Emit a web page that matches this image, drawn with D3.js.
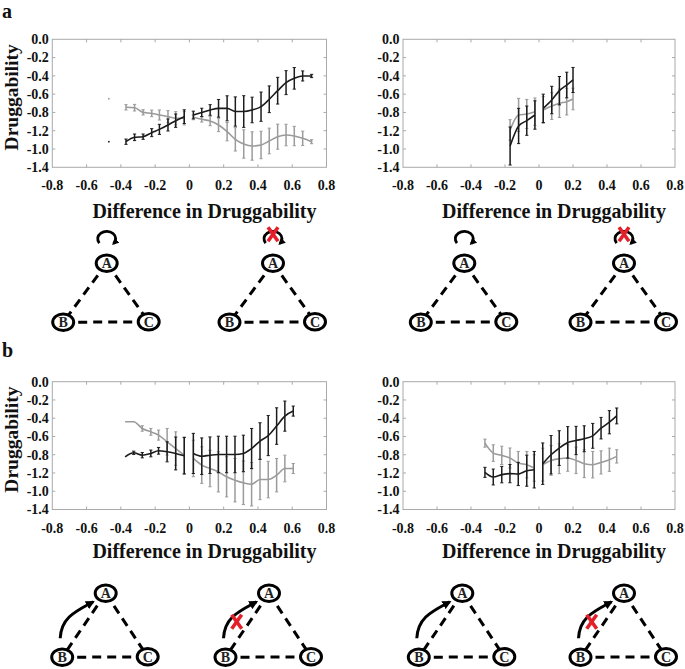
<!DOCTYPE html>
<html><head><meta charset="utf-8">
<script src="https://cdn.jsdelivr.net/npm/d3@7"></script>
<style>body{margin:0;background:#fff}</style>
</head><body>
<svg id="fig" width="685" height="669" xmlns="http://www.w3.org/2000/svg"></svg>
<script>
// ---------- data ----------
const xTicks = [-0.8,-0.6,-0.4,-0.2,0,0.2,0.4,0.6,0.8];
const xTickLabels = ["-0.8","-0.6","-0.4","-0.2","0","0.2","0.4","0.6","0.8"];
const yTicks = [0,-0.2,-0.4,-0.6,-0.8,-1.0,-1.2,-1.4];
const yTickLabels = ["0.0","-0.2","-0.4","-0.6","-0.8","-1.2","-1.0","-1.4"];
const xTitle = "Difference in Druggability";
const yTitle = "Druggability";
const panelLetters = ["a","b"];

// panel a, left
const aLeftX = [-0.37,-0.32,-0.27,-0.22,-0.175,-0.125,-0.08,-0.03,0.023,0.072,0.121,0.17,0.22,0.268,0.317,0.366,0.418,0.466,0.515,0.564,0.612,0.661,0.713];
const aLeftDark = [-1.12,-1.072,-1.065,-1.021,-0.985,-0.937,-0.89,-0.846,-0.828,-0.80,-0.773,-0.755,-0.755,-0.79,-0.79,-0.773,-0.737,-0.656,-0.562,-0.474,-0.427,-0.401,-0.401];
const aLeftDarkErr = [0.029,0.036,0.029,0.044,0.055,0.066,0.073,0.075,0.042,0.046,0.058,0.097,0.137,0.16,0.173,0.14,0.16,0.146,0.146,0.131,0.118,0.055,0.018];
const aLeftGray = [-0.744,-0.748,-0.799,-0.81,-0.828,-0.846,-0.864,-0.864,-0.853,-0.875,-0.894,-0.937,-1.01,-1.094,-1.145,-1.167,-1.156,-1.112,-1.065,-1.047,-1.058,-1.083,-1.12];
const aLeftGrayErr = [0.029,0.036,0.029,0.036,0.055,0.066,0.073,0.073,0.027,0.03,0.051,0.073,0.1,0.128,0.155,0.155,0.15,0.14,0.137,0.118,0.106,0.078,0.022];
const aLeftDotX = [-0.47];
const aLeftDotDark = [-1.12];
const aLeftDotGray = [-0.65];

// panel a, right
const aRightX = [-0.17,-0.12,-0.072,-0.024,0.025,0.075,0.12,0.163,0.2];
const aRightDark = [-1.167,-0.948,-0.89,-0.828,-0.755,-0.664,-0.562,-0.5,-0.445];
const aRightDarkErr = [0.208,0.193,0.16,0.155,0.155,0.15,0.155,0.14,0.137];
const aRightGray = [-0.992,-0.828,-0.817,-0.792,-0.773,-0.73,-0.7,-0.682,-0.653];
const aRightGrayErr = [0.113,0.182,0.159,0.15,0.146,0.146,0.155,0.146,0.118];

// panel b, left
const bLeftX = [-0.375,-0.325,-0.275,-0.225,-0.18,-0.13,-0.08,-0.03,0.023,0.072,0.12,0.169,0.217,0.266,0.315,0.363,0.412,0.46,0.509,0.557,0.606];
const bLeftDark = [-0.823,-0.779,-0.805,-0.786,-0.757,-0.768,-0.786,-0.812,-0.786,-0.816,-0.805,-0.797,-0.797,-0.797,-0.786,-0.732,-0.65,-0.59,-0.486,-0.377,-0.322];
const bLeftDarkErr = [0,0.018,0.029,0.037,0.037,0.11,0.18,0.2,0.22,0.2,0.2,0.2,0.2,0.2,0.2,0.22,0.2,0.22,0.2,0.165,0.055];
const bLeftGray = [-0.439,-0.439,-0.512,-0.549,-0.585,-0.658,-0.732,-0.805,-0.841,-0.914,-0.951,-0.988,-1.042,-1.079,-1.108,-1.123,-1.072,-1.072,-1.024,-0.951,-0.951];
const bLeftGrayErr = [0,0,0.03,0.037,0.055,0.146,0.183,0.2,0.2,0.2,0.2,0.22,0.22,0.238,0.238,0.238,0.22,0.2,0.183,0.146,0.055];

// panel b, right
const bRightX = [-0.318,-0.269,-0.219,-0.171,-0.122,-0.072,-0.028,0.022,0.071,0.119,0.169,0.218,0.266,0.316,0.365,0.414,0.457];
const bRightDark = [-0.993,-1.044,-1.018,-1.007,-1.011,-0.975,-0.964,-0.898,-0.8,-0.727,-0.665,-0.644,-0.625,-0.593,-0.509,-0.444,-0.375];
const bRightDarkErr = [0.055,0.087,0.09,0.1,0.127,0.17,0.2,0.227,0.21,0.19,0.173,0.155,0.142,0.136,0.118,0.127,0.087];
const bRightGray = [-0.673,-0.782,-0.807,-0.836,-0.891,-0.909,-0.945,-0.909,-0.862,-0.844,-0.836,-0.862,-0.898,-0.909,-0.884,-0.855,-0.818];
const bRightGrayErr = [0.044,0.091,0.1,0.11,0.127,0.145,0.145,0.18,0.164,0.164,0.145,0.145,0.153,0.145,0.127,0.127,0.073];

// network motifs
const nodeNames = ["A","B","C"];
const edges = [["A","B"],["A","C"],["B","C"]];
const motifKinds = ["loop","loop","loop","loop","arrow","arrow","arrow","arrow"];
const motifCrossed = [false,true,false,true,false,true,false,true];

// ---------- drawing ----------
const svg = d3.select("#fig");
const FONT = "'Liberation Serif','Times New Roman',serif";
const DARK = "#1c1c1c", GRAY = "#9b9b9b";

const panels = [
  {x:aLeftX, dark:aLeftDark, dErr:aLeftDarkErr, gray:aLeftGray, gErr:aLeftGrayErr, dotX:aLeftDotX, dotD:aLeftDotDark, dotG:aLeftDotGray, xr:[52.3,326.5], yr:[39.3,167.3], ytitle:true, tb:218},
  {x:aRightX, dark:aRightDark, dErr:aRightDarkErr, gray:aRightGray, gErr:aRightGrayErr, xr:[403,675], yr:[39.3,167.3], ytitle:false, tb:218},
  {x:bLeftX, dark:bLeftDark, dErr:bLeftDarkErr, gray:bLeftGray, gErr:bLeftGrayErr, xr:[52.3,326.5], yr:[381.7,509.5], ytitle:true, tb:558},
  {x:bRightX, dark:bRightDark, dErr:bRightDarkErr, gray:bRightGray, gErr:bRightGrayErr, xr:[403,675], yr:[381.7,509.5], ytitle:false, tb:558}
];

panels.forEach(p => {
  const g = svg.append("g");
  const x = d3.scaleLinear().domain([-0.8,0.8]).range(p.xr);
  const y = d3.scaleLinear().domain([0,-1.4]).range(p.yr);
  g.append("rect").attr("x",p.xr[0]).attr("y",p.yr[0])
    .attr("width",p.xr[1]-p.xr[0]).attr("height",p.yr[1]-p.yr[0])
    .attr("fill","none").attr("stroke","#a9a9a9").attr("stroke-width",1);
  xTicks.slice(1,-1).forEach(t => {
    g.append("line").attr("x1",x(t)).attr("x2",x(t)).attr("y1",p.yr[0]).attr("y2",p.yr[0]+3).attr("stroke","#a9a9a9");
    g.append("line").attr("x1",x(t)).attr("x2",x(t)).attr("y1",p.yr[1]).attr("y2",p.yr[1]-3).attr("stroke","#a9a9a9");
  });
  yTicks.slice(1,-1).forEach(t => {
    g.append("line").attr("x1",p.xr[0]).attr("x2",p.xr[0]+3).attr("y1",y(t)).attr("y2",y(t)).attr("stroke","#a9a9a9");
    g.append("line").attr("x1",p.xr[1]).attr("x2",p.xr[1]-3).attr("y1",y(t)).attr("y2",y(t)).attr("stroke","#a9a9a9");
  });
  xTicks.forEach((t,i) => {
    g.append("text").attr("x",x(t)).attr("y",p.yr[1]+23)
      .attr("text-anchor","middle").attr("font-family",FONT).attr("font-weight","bold")
      .attr("font-size",14).attr("fill","#111").text(xTickLabels[i]);
  });
  yTicks.forEach((t,i) => {
    g.append("text").attr("x",p.xr[0]-3.5).attr("y",y(t)).attr("dy","0.35em")
      .attr("text-anchor","end").attr("font-family",FONT).attr("font-weight","bold")
      .attr("font-size",14).attr("fill","#111").text(yTickLabels[i]);
  });
  g.append("text").attr("x",(p.xr[0]+p.xr[1])/2+15).attr("y",p.tb)
    .attr("text-anchor","middle").attr("font-family",FONT).attr("font-weight","bold")
    .attr("font-size",20).attr("fill","#111").text(xTitle);
  if (p.ytitle) {
    const cy = (p.yr[0]+p.yr[1])/2 - 6;
    g.append("text").attr("transform",`translate(18,${cy}) rotate(-90)`)
      .attr("text-anchor","middle").attr("font-family",FONT).attr("font-weight","bold")
      .attr("font-size",19.5).attr("fill","#111").text(yTitle);
  }
  const series = [
    {m:p.gray, e:p.gErr, c:GRAY},
    {m:p.dark, e:p.dErr, c:DARK}
  ];
  const line = d3.line().x(d=>x(d.x)).y(d=>y(d.m)).curve(d3.curveMonotoneX);
  series.forEach(s => {
    const pts = p.x.map((v,i)=>({x:v, m:s.m[i], e:s.e[i]}));
    const segs = [pts.filter(d=>d.x<0), pts.filter(d=>d.x>0)];
    segs.forEach(seg => {
      if (seg.length>1) g.append("path").attr("d",line(seg)).attr("fill","none")
        .attr("stroke",s.c).attr("stroke-width",1.6);
    });
    pts.forEach(d => {
      if (d.e<=0) return;
      const y1 = y(d.m+d.e), y2 = y(d.m-d.e), xx = x(d.x);
      g.append("line").attr("x1",xx).attr("x2",xx).attr("y1",y1).attr("y2",y2).attr("stroke",s.c).attr("stroke-width",1.5);
      g.append("line").attr("x1",xx-1.6).attr("x2",xx+1.6).attr("y1",y1).attr("y2",y1).attr("stroke",s.c).attr("stroke-width",1);
      g.append("line").attr("x1",xx-1.6).attr("x2",xx+1.6).attr("y1",y2).attr("y2",y2).attr("stroke",s.c).attr("stroke-width",1);
    });
  });
  if (p.dotX) {
    p.dotX.forEach((v,i) => {
      g.append("circle").attr("cx",x(v)).attr("cy",y(p.dotG[i])).attr("r",0.9).attr("fill",GRAY);
      g.append("circle").attr("cx",x(v)).attr("cy",y(p.dotD[i])).attr("r",0.9).attr("fill",DARK);
    });
  }
});

svg.append("text").attr("x",2).attr("y",18).attr("font-family",FONT).attr("font-weight","bold").attr("font-size",20).attr("fill","#111").text(panelLetters[0]);
svg.append("text").attr("x",2).attr("y",357).attr("font-family",FONT).attr("font-weight","bold").attr("font-size",20).attr("fill","#111").text(panelLetters[1]);

const defs = svg.append("defs");
defs.append("marker").attr("id","headBig").attr("viewBox","0 0 10 10").attr("refX",8).attr("refY",5)
  .attr("markerUnits","userSpaceOnUse").attr("markerWidth",9).attr("markerHeight",9).attr("orient","auto")
  .append("path").attr("d","M0,0 L10,5 L0,10 Z").attr("fill","#000");
defs.append("marker").attr("id","headSmall").attr("viewBox","0 0 10 10").attr("refX",7).attr("refY",5)
  .attr("markerUnits","userSpaceOnUse").attr("markerWidth",7).attr("markerHeight",7).attr("orient","auto")
  .append("path").attr("d","M0,0 L10,5 L0,10 Z").attr("fill","#000");

const motifA = [[106.7,263.3],[273,263.3],[464.3,263.3],[624,263.3],[105.7,593.3],[269,593.3],[462.3,593.3],[624,593.3]];
motifKinds.forEach((kind,k) => {
  const [ax,ay] = motifA[k];
  const dy = kind==="loop" ? 59 : 64;
  const pos = {A:[ax,ay], B:[ax-43.5,ay+dy], C:[ax+42,ay+dy-0.5]};
  const g = svg.append("g");
  edges.forEach(([s,t]) => {
    g.append("line").attr("x1",pos[s][0]).attr("y1",pos[s][1]).attr("x2",pos[t][0]).attr("y2",pos[t][1])
      .attr("stroke","#000").attr("stroke-width",3).attr("stroke-dasharray","9,6");
  });
  if (kind==="loop") {
    const cx = ax, cy = ay-24.5, rx = 9, ry = 7.5;
    const t0 = 215*Math.PI/180, t1 = -40*Math.PI/180;
    const sx = cx+rx*Math.cos(t0), sy = cy-ry*Math.sin(t0);
    const ex = cx+rx*Math.cos(t1), ey = cy-ry*Math.sin(t1);
    g.append("path").attr("d",`M${sx},${sy} A${rx},${ry} 0 1 1 ${ex},${ey}`)
      .attr("fill","none").attr("stroke","#000").attr("stroke-width",2.8).attr("marker-end","url(#headSmall)");
  } else {
    const [bx,by] = pos.B;
    g.append("path").attr("d",`M${bx-2},${by-19} C${bx-1},${by-40} ${ax-30},${ay+18} ${ax-12.5},${ay+8.5}`)
      .attr("fill","none").attr("stroke","#000").attr("stroke-width",3).attr("marker-end","url(#headBig)");
  }
  nodeNames.forEach(n => {
    g.append("ellipse").attr("cx",pos[n][0]).attr("cy",pos[n][1]).attr("rx",10.5).attr("ry",8.3)
      .attr("fill","#fff").attr("stroke","#000").attr("stroke-width",3);
    g.append("text").attr("x",pos[n][0]).attr("y",pos[n][1]).attr("dy","0.36em").attr("text-anchor","middle")
      .attr("font-family",FONT).attr("font-weight","bold").attr("font-size",14).attr("fill","#222").text(n);
  });
  if (motifCrossed[k]) {
    const [xc,yc] = kind==="loop" ? [ax,ay-29] : [ax-32.3,ay+28.4];
    g.append("line").attr("x1",xc-5).attr("y1",yc-7).attr("x2",xc+5).attr("y2",yc+7).attr("stroke","#e3202a").attr("stroke-width",3.6);
    g.append("line").attr("x1",xc+5).attr("y1",yc-7).attr("x2",xc-5).attr("y2",yc+7).attr("stroke","#e3202a").attr("stroke-width",3.6);
  }
});
</script>
</body></html>
